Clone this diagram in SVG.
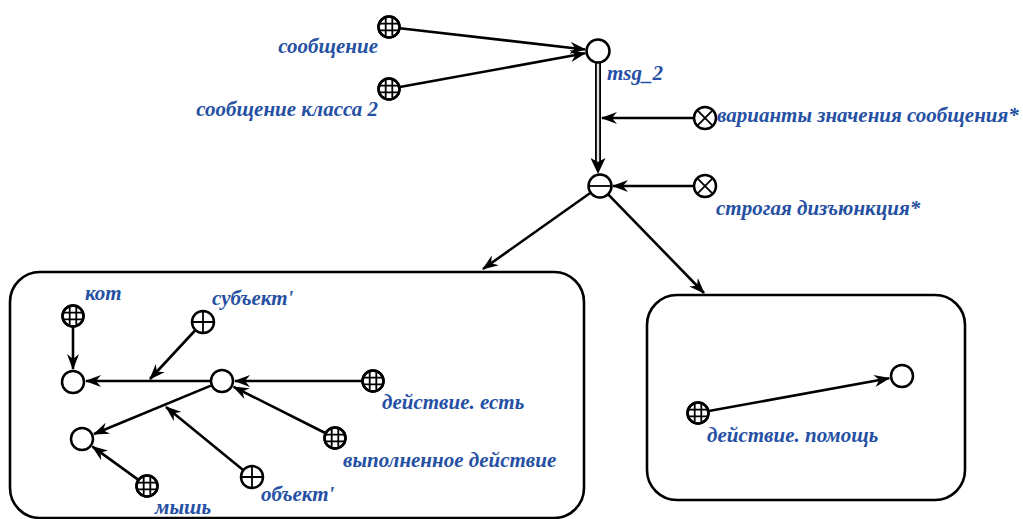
<svg xmlns="http://www.w3.org/2000/svg" width="1023" height="519" viewBox="0 0 1023 519">
<defs>
<style>
.lbl{font-family:"Liberation Serif","DejaVu Serif",serif;font-weight:bold;font-style:italic;font-size:21px;fill:#2550a3}
.nd{fill:#fff;stroke:#000;stroke-width:2.5}
.ln{stroke:#000;stroke-width:1.8;fill:none}
.cn{stroke:#000;stroke-width:2.6;fill:none;marker-end:url(#ah)}
.box{fill:#fff;stroke:#000;stroke-width:2.6}
</style>
<marker id="ah" viewBox="0 0 16 12" refX="15" refY="6" markerWidth="16" markerHeight="12" markerUnits="userSpaceOnUse" orient="auto">
<path d="M0,0 L16,6 L0,12 L5,6 z" fill="#000"/>
</marker>
<g id="grid"><circle class="nd" r="10.5"/><path class="ln" d="M-3.3,-10V10M3.3,-10V10M-10,-3.3H10M-10,3.3H10"/><circle r="10.5" fill="none" stroke="#000" stroke-width="2.5"/></g>
<g id="plus"><circle class="nd" r="11"/><path class="ln" d="M0,-11V11M-11,0H11"/></g>
<g id="cross"><circle class="nd" r="11"/><path class="ln" d="M-7.8,-7.8L7.8,7.8M7.8,-7.8L-7.8,7.8" stroke-width="2.4"/></g>
</defs>
<rect width="1023" height="519" fill="#fff"/>
<g id="boxes">
<rect class="box" x="10" y="272" width="574" height="246" rx="30"/>
<rect class="box" x="647" y="295" width="318" height="205" rx="30"/>
</g>
<g id="connectors">
<line class="cn" x1="399.9" y1="28.3" x2="585.1" y2="49.5"/>
<line class="cn" x1="399.8" y1="87" x2="585.2" y2="53.3"/>
<line x1="598" y1="63" x2="598" y2="164" stroke="#000" stroke-width="6"/>
<line x1="598" y1="63" x2="598" y2="162" stroke="#e0e0e0" stroke-width="2.4"/>
<path d="M590.5,158 L598,174 L605.5,158 L598,162 z" fill="#000"/>
<line class="cn" x1="694" y1="118" x2="602" y2="118"/>
<line class="cn" x1="694" y1="186" x2="613" y2="186"/>
<line class="cn" x1="590.2" y1="193" x2="483" y2="269"/>
<line class="cn" x1="608.4" y1="194.6" x2="704" y2="293"/>
<line class="cn" x1="73" y1="327" x2="73" y2="369"/>
<line class="cn" x1="210" y1="381" x2="86" y2="381"/>
<line class="cn" x1="195.5" y1="330" x2="150" y2="379"/>
<line class="cn" x1="210.9" y1="385.6" x2="94" y2="434"/>
<line class="cn" x1="138.1" y1="479.6" x2="92.5" y2="446.6"/>
<line class="cn" x1="243.4" y1="470.2" x2="166" y2="407"/>
<line class="cn" x1="362" y1="381" x2="235" y2="381"/>
<line class="cn" x1="325.2" y1="433" x2="233.6" y2="386.9"/>
<line class="cn" x1="708.8" y1="411" x2="889.2" y2="378.3"/>
</g>
<g id="n-soobshchenie"><use href="#grid" x="389" y="27"/><text class="lbl" x="378" y="53" text-anchor="end">сообщение</text></g>
<g id="n-soobshchenie2"><use href="#grid" x="389" y="89"/><text class="lbl" x="378" y="116" text-anchor="end">сообщение класса 2</text></g>
<g id="n-msg2"><circle class="nd" cx="598" cy="51" r="11.5"/><text class="lbl" x="607" y="80">msg_2</text></g>
<g id="n-varianty"><use href="#cross" x="705" y="118"/><text class="lbl" x="717" y="122">варианты значения сообщения*</text></g>
<g id="n-disj"><circle class="nd" cx="600" cy="186" r="11.5"/><path class="ln" d="M588.5,186H611.5" stroke-width="2.4"/></g>
<g id="n-strogaya"><use href="#cross" x="705" y="186"/><text class="lbl" x="716" y="215">строгая дизъюнкция*</text></g>
<g id="n-kot"><use href="#grid" x="73" y="316"/><text class="lbl" x="85" y="300">кот</text></g>
<g id="n-a"><circle class="nd" cx="73" cy="382" r="11"/></g>
<g id="n-subj"><use href="#plus" x="203" y="322"/><text class="lbl" x="212" y="305">субъект'</text></g>
<g id="n-b"><circle class="nd" cx="222" cy="381" r="11"/></g>
<g id="n-c"><circle class="nd" cx="82" cy="439" r="11"/></g>
<g id="n-mysh"><use href="#grid" x="147" y="486"/><text class="lbl" x="155" y="514">мышь</text></g>
<g id="n-obj"><use href="#plus" x="252" y="477"/><text class="lbl" x="261" y="501">объект'</text></g>
<g id="n-est"><use href="#grid" x="373" y="381"/><text class="lbl" x="382" y="409">действие. есть</text></g>
<g id="n-vyp"><use href="#grid" x="335" y="438"/><text class="lbl" x="343" y="467">выполненное действие</text></g>
<g id="n-pomoshch"><use href="#grid" x="698" y="413"/><text class="lbl" x="707" y="442">действие. помощь</text></g>
<g id="n-d"><circle class="nd" cx="902" cy="376" r="11"/></g>
</svg>
